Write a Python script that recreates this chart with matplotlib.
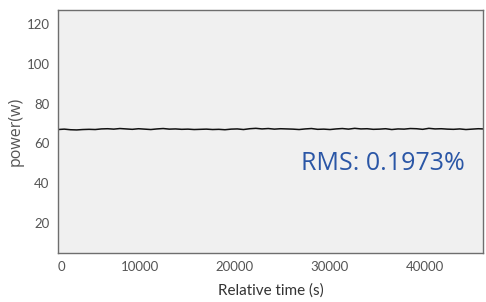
import matplotlib.pyplot as plt

time_s = [1400, 2050, 2700, 3350, 4000, 4650, 5300, 5950, 6600, 7250,
          7900, 8550, 9200, 9850, 10500, 11150, 11800, 12450, 13100, 13750,
          14400, 15050, 15700, 16350, 17000, 17650, 18300, 18950, 19600, 20250,
          20900, 21550, 22200, 22850, 23500, 24150, 24800, 25450, 26100, 26750,
          27400, 28050, 28700, 29350, 30000, 30650, 31300, 31950, 32600, 33250,
          33900, 34550, 35200, 35850, 36500, 37150, 37800, 38450, 39100, 39750,
          40400, 41050, 41700, 42350, 43000, 43650, 44300, 44950, 45600, 46100]
power_w = [67.0, 67.2, 66.9, 66.8, 67.0, 67.1, 67.0, 67.3, 67.4, 67.2,
           67.5, 67.3, 67.1, 67.4, 67.2, 67.0, 67.3, 67.5, 67.2, 67.3,
           67.1, 67.2, 67.0, 67.1, 67.2, 67.0, 67.1, 66.9, 67.2, 67.3,
           67.0, 67.4, 67.6, 67.3, 67.5, 67.2, 67.4, 67.3, 67.2, 67.0,
           67.3, 67.5, 67.1, 67.2, 67.0, 67.3, 67.5, 67.2, 67.6, 67.3,
           67.4, 67.1, 67.2, 67.4, 67.0, 67.3, 67.2, 67.5, 67.4, 67.1,
           67.6, 67.3, 67.4, 67.2, 67.1, 67.3, 67.0, 67.2, 67.4, 67.3]

x_ticks = [1700, 10000, 20000, 30000, 40000]
x_tick_labels = ["0", "10000", "20000", "30000", "40000"]
y_ticks = [20, 40, 60, 80, 100, 120]
rms_text = "RMS: 0.1973%"

fig = plt.figure(figsize=(4.86, 3.02), dpi=100)
ax = fig.add_axes([0.119, 0.162, 0.875, 0.805])
ax.set_facecolor("#f0f0f0")

ax.plot(time_s, power_w, color="#111111", linewidth=1.1)

ax.set_xlim(1368, 46105)
ax.set_ylim(5, 127)
ax.set_xticks(x_ticks)
ax.set_xticklabels(x_tick_labels)
ax.set_yticks(y_ticks)

ax.tick_params(axis="both", length=0, labelsize=9.5, labelcolor="#555555")
ax.tick_params(axis="x", pad=6)
ax.tick_params(axis="y", pad=6)
for lab in ax.get_xticklabels() + ax.get_yticklabels():
    lab.set_fontfamily("Lato")

for s in ax.spines.values():
    s.set_color("#6e6e6e")
    s.set_linewidth(1.0)

ax.set_xlabel("Relative time (s)", fontsize=11, color="#333333",
              family="Lato", labelpad=7)
ax.set_ylabel("power(w)", fontsize=11.5, color="#555555",
              family="Open Sans", labelpad=2)

ax.text(27000, 50, rms_text, fontsize=18, color="#2a56a6",
        family="Open Sans", va="center", ha="left")

fig.savefig("out.png", dpi=100)
